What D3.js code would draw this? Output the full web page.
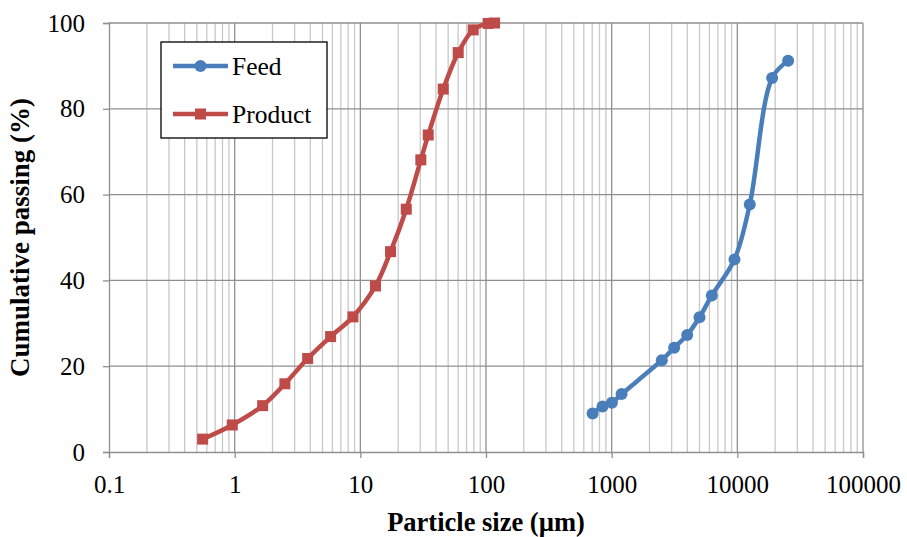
<!DOCTYPE html>
<html>
<head>
<meta charset="utf-8">
<script src="https://cdn.jsdelivr.net/npm/d3@7"></script>
<style>
  body { margin: 0; background: #fff; }
</style>
</head>
<body>
<div id="chart"></div>
<script>
// data
var feedSize = [705, 846, 1004, 1199, 2506, 3142, 3990, 5000, 6266, 9490, 12560, 18920, 25360];
var feedPass = [9.0, 10.6, 11.5, 13.5, 21.4, 24.3, 27.3, 31.4, 36.5, 44.9, 57.7, 87.2, 91.2];
var productSize = [0.556, 0.957, 1.67, 2.51, 3.81, 5.80, 8.73, 13.2, 17.4, 23.2, 30.3, 34.7, 45.7, 60.1, 79.1, 104, 117];
var productPass = [3.0, 6.3, 10.8, 15.9, 21.8, 26.9, 31.5, 38.7, 46.7, 56.6, 68.1, 73.9, 84.6, 93.1, 98.4, 99.9, 100];
var xTicks = [0.1, 1, 10, 100, 1000, 10000, 100000];
var yTicks = [0, 20, 40, 60, 80, 100];

var margin = {top: 23, right: 44, bottom: 85, left: 109},
    width = 907 - margin.left - margin.right,
    height = 537 - margin.top - margin.bottom;

var svg = d3.select("#chart")
    .append("svg")
    .attr("width", 907)
    .attr("height", 537)
    .append("g")
    .attr("transform", "translate(" + margin.left + "," + margin.top + ")");

var x = d3.scaleLog().domain([0.1, 100000]).range([0, width]);
var y = d3.scaleLinear().domain([0, 100]).range([height, 0]);

// minor vertical grid lines
var minor = [];
for (var d = 0.1; d < 100000; d *= 10) {
  for (var k = 2; k <= 9; k++) minor.push(d * k);
}
svg.append("g")
  .selectAll("line")
  .data(minor)
  .enter().append("line")
  .attr("x1", function(d) { return x(d); })
  .attr("x2", function(d) { return x(d); })
  .attr("y1", 0)
  .attr("y2", height)
  .attr("stroke", "#c8c8c8")
  .attr("stroke-width", 1.3);

// major grid lines
svg.append("g")
  .selectAll("line")
  .data(xTicks.slice(1))
  .enter().append("line")
  .attr("x1", function(d) { return x(d); })
  .attr("x2", function(d) { return x(d); })
  .attr("y1", 0)
  .attr("y2", height)
  .attr("stroke", "#8f8f8f")
  .attr("stroke-width", 1.3);
svg.append("g")
  .selectAll("line")
  .data(yTicks.slice(1))
  .enter().append("line")
  .attr("x1", 0)
  .attr("x2", width)
  .attr("y1", function(d) { return y(d); })
  .attr("y2", function(d) { return y(d); })
  .attr("stroke", "#8f8f8f")
  .attr("stroke-width", 1.3);

// axes
var xAxis = svg.append("g")
  .attr("transform", "translate(0," + height + ")")
  .call(d3.axisBottom(x).tickValues(xTicks).tickFormat(function(d) { return String(d); }).tickSizeOuter(0).tickSize(6).tickPadding(17));
var yAxis = svg.append("g")
  .call(d3.axisLeft(y).tickValues(yTicks).tickSizeOuter(0).tickSize(6).tickPadding(18));
[xAxis, yAxis].forEach(function(a) {
  a.attr("font-family", null).attr("font-size", null);
  a.select(".domain").attr("stroke", "#8f8f8f").attr("stroke-width", 1.3);
  a.selectAll(".tick line").attr("stroke", "#8f8f8f").attr("stroke-width", 1.3);
  a.selectAll("text").style("font-size", "25px").attr("fill", "#000");
});

// axis titles
svg.append("text")
  .attr("x", width / 2)
  .attr("y", height + 79)
  .attr("text-anchor", "middle")
  .style("font-size", "26.5px")
  .attr("font-weight", "bold")
  .text("Particle size (µm)");
svg.append("text")
  .attr("transform", "rotate(-90)")
  .attr("x", -(height / 2))
  .attr("y", -80)
  .attr("text-anchor", "middle")
  .style("font-size", "27px")
  .attr("font-weight", "bold")
  .text("Cumulative passing (%)");

var line = d3.line()
  .x(function(d) { return x(d[0]); })
  .y(function(d) { return y(d[1]); })
  .curve(d3.curveCatmullRom.alpha(0.5));

var feed = d3.zip(feedSize, feedPass);
var product = d3.zip(productSize, productPass);
var blue = "#4a7ebb", red = "#be4b48";

svg.append("path").datum(product)
  .attr("d", line).attr("fill", "none").attr("stroke", red).attr("stroke-width", 4.5);
svg.append("g").selectAll("rect").data(product).enter().append("rect")
  .attr("x", function(d) { return x(d[0]) - 5.5; })
  .attr("y", function(d) { return y(d[1]) - 5.5; })
  .attr("width", 11).attr("height", 11)
  .attr("fill", red);

svg.append("path").datum(feed)
  .attr("d", line).attr("fill", "none").attr("stroke", blue).attr("stroke-width", 4.5);
svg.append("g").selectAll("circle").data(feed).enter().append("circle")
  .attr("cx", function(d) { return x(d[0]); })
  .attr("cy", function(d) { return y(d[1]); })
  .attr("r", 6)
  .attr("fill", blue);

// legend
var legend = svg.append("g").attr("transform", "translate(52,19)");
legend.append("rect")
  .attr("width", 166).attr("height", 96)
  .attr("fill", "#fff").attr("stroke", "#000").attr("stroke-width", 1.3);
var series = [
  {name: "Feed", color: blue, shape: "circle"},
  {name: "Product", color: red, shape: "square"}
];
var item = legend.selectAll(".item").data(series).enter().append("g")
  .attr("transform", function(d, i) { return "translate(0," + (24 + i * 48) + ")"; });
item.append("line")
  .attr("x1", 12).attr("x2", 67)
  .attr("stroke", function(d) { return d.color; })
  .attr("stroke-width", 4.5);
item.filter(function(d) { return d.shape === "circle"; }).append("circle")
  .attr("cx", 39.5).attr("r", 6).attr("fill", function(d) { return d.color; });
item.filter(function(d) { return d.shape === "square"; }).append("rect")
  .attr("x", 34).attr("y", -5.5).attr("width", 11).attr("height", 11)
  .attr("fill", function(d) { return d.color; });
item.append("text")
  .attr("x", 71).attr("dy", "0.35em")
  .style("font-size", "25.5px")
  .text(function(d) { return d.name; });

// Times-like serif everywhere
d3.selectAll("text").style("font-family", "Liberation Serif");
</script>
</body>
</html>
